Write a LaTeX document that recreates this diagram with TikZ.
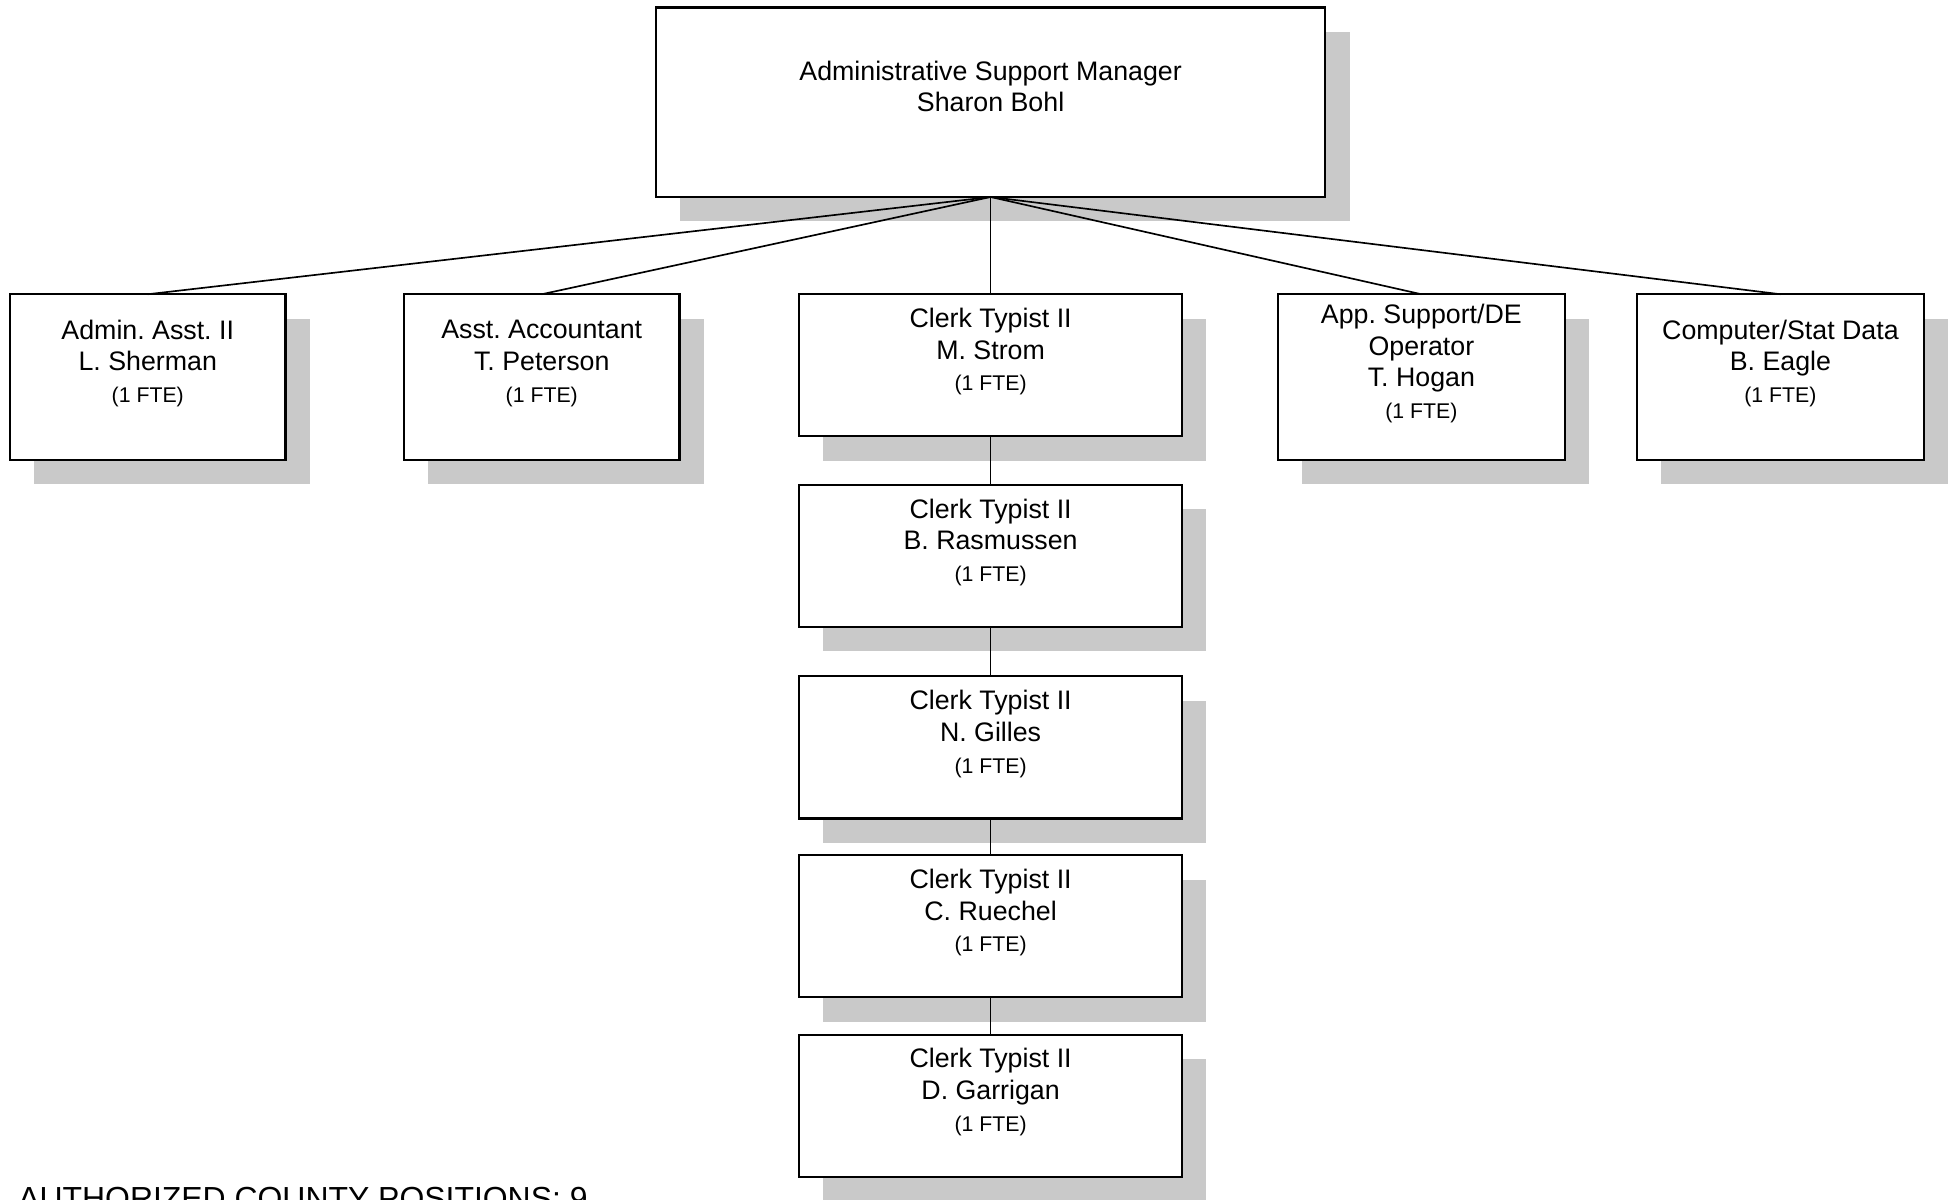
\documentclass[tikz,border=0pt]{standalone}
\usepackage{fontspec}
\setmainfont{Liberation Sans}
\usetikzlibrary{shadows}
\frenchspacing

\tikzset{every picture/.style={line width=1pt}}
\tikzset{
  post/.style={draw, fill=white, line width=1.25pt, inner sep=0pt, outer sep=0pt, align=center,
    font=\fontsize{16.1}{19.1}\selectfont,
    drop shadow={shadow xshift=14.6pt, shadow yshift=-14.6pt, fill=black!21, opacity=1}},
  smallpost/.style={post, minimum width=165.75pt, minimum height=99.75pt},
  widepost/.style={post, minimum width=172.5pt, minimum height=99.75pt},
  clerkpost/.style={post, minimum width=230.25pt, minimum height=85.5pt},
  link/.style={draw, line width=1pt}
}
\newcommand{\fte}{{\fontsize{12.8}{19.1}\selectfont (1 FTE)}}

\begin{document}
\begin{tikzpicture}[x=0.75pt,y=0.75pt,yscale=-1,xscale=1]
\useasboundingbox (0,0) rectangle (1568,962);

%Manager
\node[post, minimum width=402.75pt, minimum height=114pt] (mgr) at (794.5,82) {Administrative Support Manager\\Sharon Bohl\\ \mbox{}};

%Second row
\node[smallpost] (sherman) at (118.5,302.5) {Admin. Asst. II\\L. Sherman\\\fte\\ \mbox{}};
\node[smallpost] (peterson) at (434.5,302.5) {Asst. Accountant\\T. Peterson\\\fte\\ \mbox{}};
\node[clerkpost] (strom) at (794.5,293) {Clerk Typist II\\M. Strom\\\fte\\ \mbox{}};
\node[widepost] (hogan) at (1140,302.5) {App. Support/DE\\Operator\\T. Hogan\\\fte\\ \mbox{}};
\node[widepost] (eagle) at (1428,302.5) {Computer/Stat Data\\B. Eagle\\\fte\\ \mbox{}};

%Clerk column
\node[clerkpost] (rasmussen) at (794.5,446) {Clerk Typist II\\B. Rasmussen\\\fte\\ \mbox{}};
\node[clerkpost] (gilles) at (794.5,599.5) {Clerk Typist II\\N. Gilles\\\fte\\ \mbox{}};
\node[clerkpost] (ruechel) at (794.5,743) {Clerk Typist II\\C. Ruechel\\\fte\\ \mbox{}};
\node[clerkpost] (garrigan) at (794.5,887) {Clerk Typist II\\D. Garrigan\\\fte\\ \mbox{}};

%Straight Lines
\draw[link] (mgr.south) -- (sherman.north);
\draw[link] (mgr.south) -- (peterson.north);
\draw[link] (mgr.south) -- (strom.north);
\draw[link] (mgr.south) -- (hogan.north);
\draw[link] (mgr.south) -- (eagle.north);
\draw[link] (strom.south) -- (rasmussen.north);
\draw[link] (rasmussen.south) -- (gilles.north);
\draw[link] (gilles.south) -- (ruechel.north);
\draw[link] (ruechel.south) -- (garrigan.north);

% Text Node
\node[anchor=base west, inner sep=0pt, font=\fontsize{19.2}{23}\selectfont] (total) at (14,970) {AUTHORIZED COUNTY POSITIONS: 9};

\end{tikzpicture}
\end{document}
